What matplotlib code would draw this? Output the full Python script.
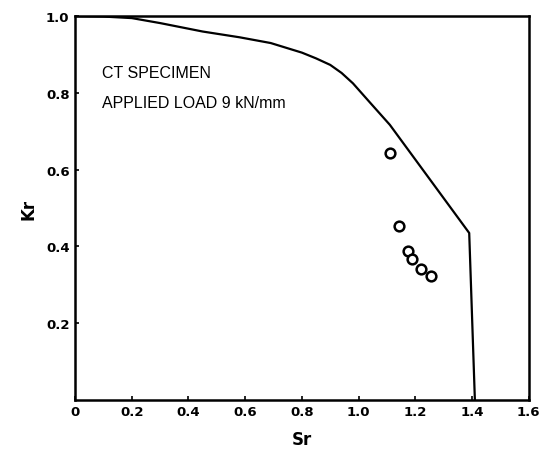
import numpy as np
import matplotlib.pyplot as plt

# failure assessment curve (Sr, Kr)
curve_sr = [0.0, 0.1, 0.2, 0.3, 0.45, 0.58, 0.69, 0.80, 0.85, 0.90, 0.94, 0.98, 1.01, 1.04, 1.11, 1.39, 1.41]
curve_kr = [1.0, 0.999, 0.995, 0.982, 0.96, 0.945, 0.93, 0.905, 0.89, 0.873, 0.852, 0.825, 0.80, 0.775, 0.717, 0.435, 0.0]

# test points
pt_sr = [1.11, 1.142, 1.175, 1.189, 1.219, 1.255]
pt_kr = [0.644, 0.453, 0.388, 0.368, 0.342, 0.323]

xticks = [0, 0.2, 0.4, 0.6, 0.8, 1.0, 1.2, 1.4, 1.6]
xlabels = ["0", "0.2", "0.4", "0.6", "0.8", "1.0", "1.2", "1.4", "1.6"]
yticks = [0.2, 0.4, 0.6, 0.8, 1.0]
ylabels = ["0.2", "0.4", "0.6", "0.8", "1.0"]

fig = plt.figure(figsize=(5.56, 4.52), dpi=100)
ax = fig.add_axes([0.135, 0.113, 0.816, 0.849])

ax.plot(curve_sr, curve_kr, color="black", lw=1.6)
ax.plot(pt_sr, pt_kr, "o", ms=7, mfc="white", mec="black", mew=1.8)

ax.set_xlim(0, 1.6)
ax.set_ylim(0, 1.0)
ax.set_xticks(xticks)
ax.set_xticklabels(xlabels, fontweight="bold", fontsize=9.5)
ax.set_yticks(yticks)
ax.set_yticklabels(ylabels, fontweight="bold", fontsize=9.5)
ax.tick_params(direction="in", length=3, width=1.2, pad=4)
for s in ax.spines.values():
    s.set_linewidth(1.8)

ax.set_xlabel("Sr", fontsize=12, fontweight="bold", labelpad=8)
ax.set_ylabel("Kr", fontsize=12, fontweight="bold", labelpad=6)

ax.text(0.06, 0.853, "CT SPECIMEN", fontsize=11.5, family="Liberation Sans",
        transform=ax.transAxes, va="center")
ax.text(0.06, 0.775, "APPLIED LOAD 9 kN/mm", fontsize=11.5, family="Liberation Sans",
        transform=ax.transAxes, va="center")

plt.savefig("out.png", dpi=100)
